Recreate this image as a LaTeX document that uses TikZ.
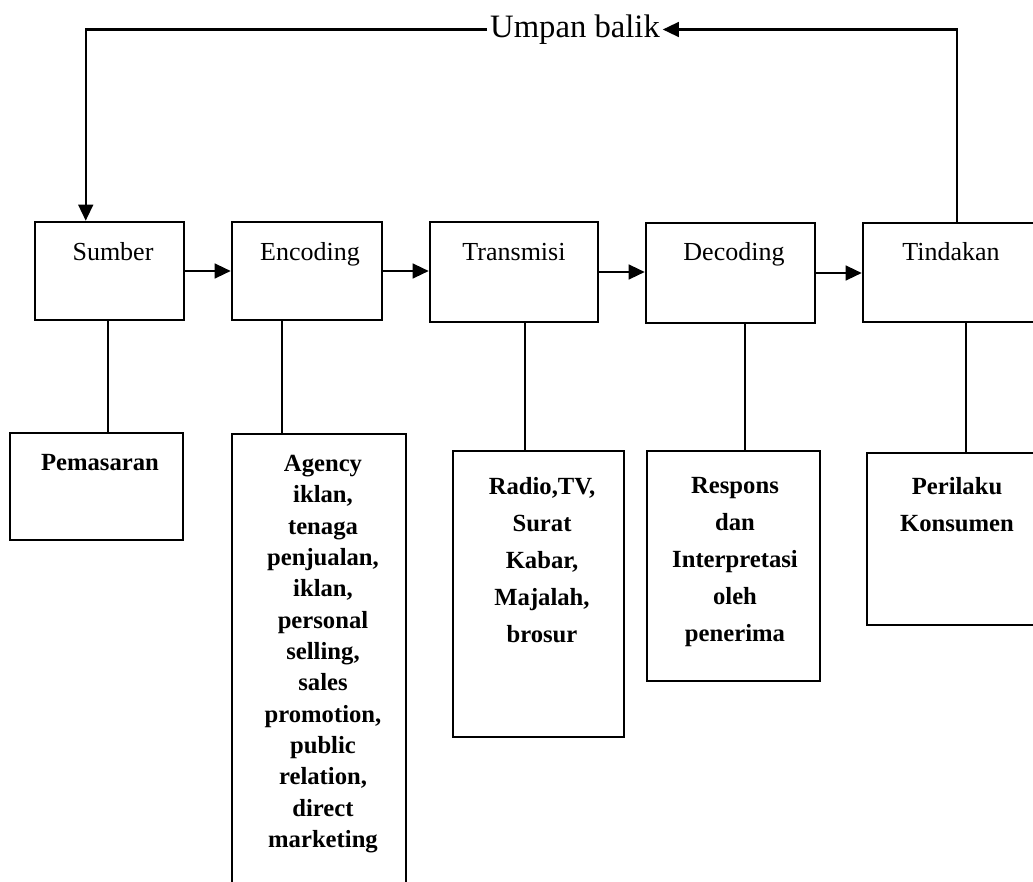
\documentclass[tikz,border=0pt]{standalone}
\usepackage{fontspec}
\setmainfont{Liberation Serif}
\usetikzlibrary{arrows.meta,fit,calc}
\begin{document}
\begin{tikzpicture}[x=0.75pt,y=-0.75pt,
 box/.style={draw,line width=1.9pt,inner sep=0pt},
 conn/.style={line width=1.8pt},
 arr/.style={line width=1.7pt,-{Triangle[length=12pt,width=11pt]}},
 toplab/.style={anchor=base,inner sep=0pt,font=\fontsize{19.5}{23}\selectfont},
 botlab/.style={anchor=north,align=center,inner sep=0pt,font=\bfseries\fontsize{18.5}{27.75}\selectfont},
 agylab/.style={anchor=north,align=center,inner sep=0pt,font=\bfseries\fontsize{18.5}{23.5}\selectfont},
]
\useasboundingbox (0,0) rectangle (1033,882);
\clip (0,0) rectangle (1033,882);

% top row boxes
\node[box,fit={(35,222)(184,320)}] (sumber) {};
\node[box,fit={(232,222)(382,320)}] (encoding) {};
\node[box,fit={(430,222)(598,322)}] (transmisi) {};
\node[box,fit={(646,223)(815,323)}] (decoding) {};
\node[box,fit={(863,223)(1042,322)}] (tindakan) {};

\node[toplab] (lsumber) at (113,260) {Sumber};
\node[toplab] (lencoding) at (310,260) {Encoding};
\node[toplab] (ltransmisi) at (514,260) {Transmisi};
\node[toplab] (ldecoding) at (734,260) {Decoding};
\node[toplab] (ltindakan) at (951,260) {Tindakan};

% arrows between top boxes
\draw[arr] (sumber.east) -- (sumber.east -| encoding.west);
\draw[arr] (encoding.east) -- (encoding.east -| transmisi.west);
\draw[arr] (transmisi.east) -- (transmisi.east -| decoding.west);
\draw[arr] (decoding.east) -- (decoding.east -| tindakan.west);

% feedback
\node[inner sep=2pt,font=\fontsize{24.5}{28}\selectfont] (umpan) at (575,29.5) {Umpan balik};
\coordinate (tinN) at ($(tindakan.north west)+(95,0)$);
\coordinate (sumN) at ($(sumber.north west)+(52,0)$);
\draw[arr] (tinN) |- (umpan.east);
\draw[arr] (umpan.west) -| (sumN);

% bottom boxes
\node[box,fit={(10,433)(183,540)}] (pemasaran) {};
\node[box,fit={(232,434)(406,900)}] (agency) {};
\node[box,fit={(453,451)(624,737)}] (media) {};
\node[box,fit={(647,451)(820,681)}] (respons) {};
\node[box,fit={(867,453)(1042,625)}] (perilaku) {};

\node[botlab] (lpemasaran) at (100,454) {Pemasaran};
\node[agylab] (lagency) at (323,455) {Agency\\iklan,\\tenaga\\penjualan,\\iklan,\\personal\\selling,\\sales\\promotion,\\public\\relation,\\direct\\marketing};
\node[botlab] (lmedia) at (542,477) {Radio,TV,\\Surat\\Kabar,\\Majalah,\\brosur};
\node[botlab] (lrespons) at (735,477) {Respons\\dan\\Interpretasi\\oleh\\penerima};
\node[botlab] (lperilaku) at (957,477) {Perilaku\\Konsumen};

% vertical connectors
\coordinate (c1) at ($(sumber.south west)+(74,0)$);
\coordinate (c2) at ($(encoding.south west)+(51,0)$);
\coordinate (c3) at ($(transmisi.south west)+(96,0)$);
\coordinate (c4) at ($(decoding.south west)+(100,0)$);
\coordinate (c5) at ($(tindakan.south west)+(104,0)$);
\draw[conn] (c1) -- (c1 |- pemasaran.north);
\draw[conn] (c2) -- (c2 |- agency.north);
\draw[conn] (c3) -- (c3 |- media.north);
\draw[conn] (c4) -- (c4 |- respons.north);
\draw[conn] (c5) -- (c5 |- perilaku.north);
\end{tikzpicture}
\end{document}
